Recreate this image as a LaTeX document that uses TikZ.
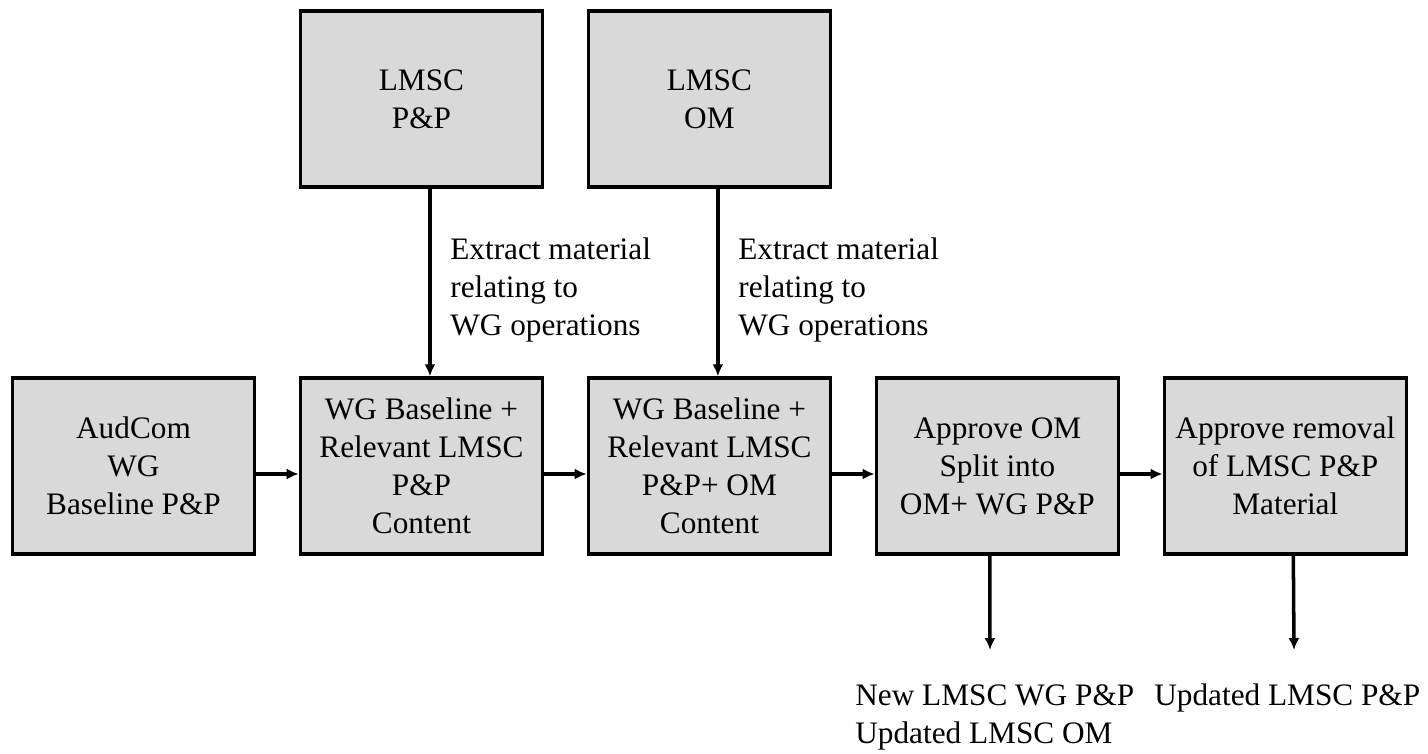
\documentclass[tikz,border=0pt]{standalone}
\usepackage{fontspec}
\setmainfont{Liberation Serif}
\usepackage{xcolor}
\usetikzlibrary{arrows.meta,positioning}
\definecolor{boxfill}{HTML}{D9D9D9}

\begin{document}
\begin{tikzpicture}[x=0.02cm,y=-0.02cm,>={Latex[length=0.24cm,width=0.22cm]},
  box/.style={draw,line width=2pt,fill=boxfill,align=center,minimum width=4.84cm,minimum height=3.52cm,inner sep=1pt,font=\fontsize{17.8}{21.6}\selectfont},
  note/.style={align=left,inner sep=0pt,anchor=west,font=\fontsize{17.8}{21.6}\selectfont},
  flow/.style={->,line width=2pt}]
  \useasboundingbox (0,0) rectangle (1428,754);
  \node[box] (aud) at (133.5,466) {AudCom\\WG\\Baseline P\&P};
  \node[box,right=0.85cm of aud] (wgpp) {WG Baseline +\\Relevant LMSC\\P\&P\\Content};
  \node[box,right=0.85cm of wgpp] (wgom) {WG Baseline +\\Relevant LMSC\\P\&P+ OM\\Content};
  \node[box,right=0.85cm of wgom] (split) {Approve OM\\Split into\\OM+ WG P\&P};
  \node[box,right=0.85cm of split] (removal) {Approve removal\\of LMSC P\&P\\Material};
  \node[box,above=3.75cm of wgpp] (pp) {LMSC\\P\&P};
  \node[box,above=3.75cm of wgom] (om) {LMSC\\OM};
  \node[note] (extpp) at (450,290) {Extract material\\relating to\\WG operations};
  \node[note] (extom) at (738,290) {Extract material\\relating to\\WG operations};
  \node[note] (newpp) at (855,717) {New LMSC WG P\&P\\Updated LMSC OM};
  \node[note] (updpp) at (1154,698) {Updated LMSC P\&P};
  \coordinate (endsplit) at (990,650);
  \coordinate (endremoval) at (1294,650);
  \draw[flow] ([xshift=0.17cm]pp.south) -- ([xshift=0.17cm]wgpp.north);
  \draw[flow] ([xshift=0.17cm]om.south) -- ([xshift=0.17cm]wgom.north);
  \draw[flow] ([yshift=-0.16cm]aud.east) -- ([yshift=-0.16cm]wgpp.west);
  \draw[flow] ([yshift=-0.16cm]wgpp.east) -- ([yshift=-0.16cm]wgom.west);
  \draw[flow] ([yshift=-0.16cm]wgom.east) -- ([yshift=-0.16cm]split.west);
  \draw[flow] ([yshift=-0.16cm]split.east) -- ([yshift=-0.16cm]removal.west);
  \draw[flow] ([xshift=-0.15cm]split.south) -- (endsplit);
  \draw[flow] ([xshift=0.16cm]removal.south) -- (endremoval);
\end{tikzpicture}
\end{document}
